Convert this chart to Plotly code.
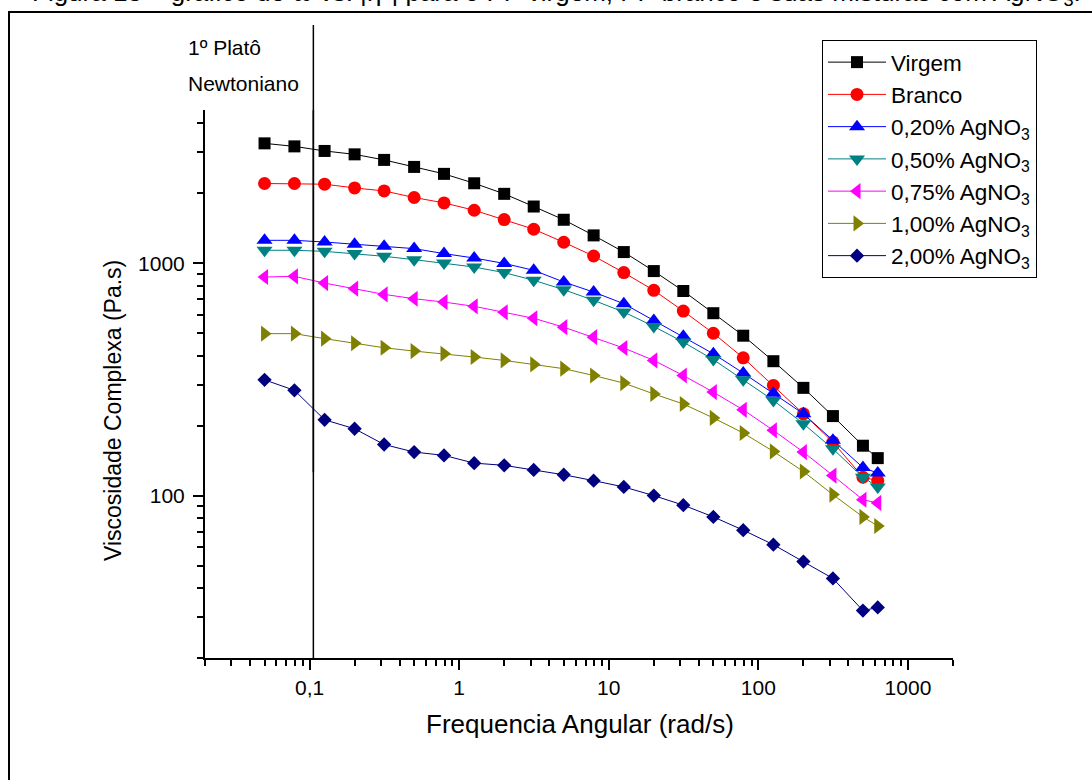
import plotly.graph_objects as go

# ---------------- data ----------------
FREQ = [0.05, 0.0792, 0.126, 0.2, 0.315, 0.5, 0.792, 1.26, 2.0, 3.15, 5.0,
        7.92, 12.6, 20.0, 31.5, 50.0, 79.2, 126, 200, 315, 500, 628]

VIRGEM = [3284, 3187, 3046, 2945, 2787, 2600, 2427, 2211, 1991, 1756, 1540,
          1319, 1118, 926, 760, 610, 488, 379, 291, 220, 164, 145]
BRANCO = [2206, 2206, 2191, 2111, 2049, 1920, 1820, 1692, 1543, 1402, 1232,
          1075, 912, 765, 623, 500, 392, 298, 225, 170, 120, 116]
AG_020 = [1256, 1256, 1235, 1207, 1184, 1157, 1101, 1054, 999, 933, 831,
          752, 670, 568, 485, 408, 337, 276, 225, 173, 132, 125]
AG_050 = [1138, 1138, 1126, 1101, 1072, 1037, 1003, 964, 912, 845, 770,
          693, 617, 535, 458, 385, 315, 257, 204, 159, 120, 109]
AG_075 = [873, 879, 822, 778, 735, 704, 681, 653, 615, 580, 531,
          481, 432, 382, 329, 279, 234, 191, 154, 122, 96, 93]
AG_100 = [498, 498, 474, 453, 433, 419, 408, 395, 382, 367, 352,
          329, 305, 274, 248, 216, 186, 155, 127, 101, 81, 74]
AG_200 = [315, 284, 212, 194, 166, 154, 149, 138, 135, 129, 123,
          116, 109, 100, 91, 81, 71, 61.5, 52, 44, 32, 33]

SERIES_NAMES = ["Virgem", "Branco", "0,20% AgNO<sub>3</sub>", "0,50% AgNO<sub>3</sub>",
                "0,75% AgNO<sub>3</sub>", "1,00% AgNO<sub>3</sub>", "2,00% AgNO<sub>3</sub>"]
SERIES_VALUES = [VIRGEM, BRANCO, AG_020, AG_050, AG_075, AG_100, AG_200]

X_TICKS = [0.1, 1, 10, 100, 1000]
X_TICK_TEXT = ["0,1", "1", "10", "100", "1000"]
Y_TICKS = [100, 1000]
Y_TICK_TEXT = ["100", "1000"]

PLATEAU_LIMIT = 0.106      # rad/s, vertical marker line
PLATEAU_LINE_BOTTOM = 126  # Pa.s

TITLE = "Figura 13 – gráfico de ω vs. |η*| para o PP virgem, PP branco e suas misturas com AgNO<sub>3</sub>."
X_TITLE = "Frequencia Angular (rad/s)"
Y_TITLE = "Viscosidade Complexa (Pa.s)"

# ---------------- styles ----------------
COLORS = ["#000000", "#FF0000", "#0000FF", "#008080", "#FF00FF", "#808000", "#000080"]
SYMBOLS = ["square", "circle", "triangle-up", "triangle-down", "triangle-left",
           "triangle-right", "diamond"]
SIZES = [12, 13, 14, 14, 14, 14, 11]
FONT = "Arial, 'Liberation Sans', sans-serif"

fig = go.Figure()
for name, vals, col, sym, sz in zip(SERIES_NAMES, SERIES_VALUES, COLORS, SYMBOLS, SIZES):
    fig.add_trace(go.Scatter(
        x=FREQ, y=vals, name=name, mode="lines+markers",
        line=dict(color=col, width=1),
        marker=dict(symbol=sym, size=sz, color=col, line=dict(width=0)),
    ))

axis_common = dict(
    type="log", showgrid=False, zeroline=False, showline=True,
    linecolor="black", linewidth=2, ticks="outside", ticklen=10, tickwidth=2,
    tickcolor="black", tickfont=dict(family=FONT, size=21, color="black"),
    minor=dict(ticks="outside", ticklen=6, tickwidth=2, tickcolor="black", dtick="D1"),
    mirror=False,
)

fig.update_xaxes(**axis_common, range=[-1.699, 3.301], tickmode="array",
                 tickvals=X_TICKS, ticktext=X_TICK_TEXT)
fig.update_yaxes(**axis_common, range=[1.301, 3.66], tickmode="array",
                 tickvals=Y_TICKS, ticktext=Y_TICK_TEXT, ticklabelstandoff=4)

L, R, T, B = 205, 139, 110, 122
W, H = 1092, 780
PW, PH = W - L - R, H - T - B


def px_x(px):
    return (px - L) / PW


def px_y(py):
    return (H - B - py) / PH


# outer frame
fig.add_shape(type="rect", xref="paper", yref="paper",
              x0=px_x(9), x1=px_x(1110), y0=px_y(800), y1=px_y(12),
              line=dict(color="black", width=2), fillcolor="rgba(0,0,0,0)", layer="below")
# plateau marker line
fig.add_shape(type="line", xref="x", yref="paper",
              x0=PLATEAU_LIMIT, x1=PLATEAU_LIMIT, y0=0, y1=px_y(25),
              line=dict(color="black", width=1.5))
fig.add_shape(type="line", xref="x", yref="y",
              x0=PLATEAU_LIMIT, x1=PLATEAU_LIMIT, y0=PLATEAU_LINE_BOTTOM, y1=4560,
              line=dict(color="black", width=1.5))

fig.add_annotation(text="1º Platô", xref="paper", yref="paper", x=px_x(186), y=px_y(47),
                   xanchor="left", yanchor="middle", showarrow=False,
                   font=dict(family=FONT, size=21, color="black"))
fig.add_annotation(text="Newtoniano", xref="paper", yref="paper", x=px_x(186), y=px_y(83),
                   xanchor="left", yanchor="middle", showarrow=False,
                   font=dict(family=FONT, size=21, color="black"))
fig.add_annotation(text=TITLE, xref="paper", yref="paper", x=px_x(30), y=px_y(-7),
                   xanchor="left", yanchor="middle", showarrow=False,
                   font=dict(family=FONT, size=26, color="black"))
# axis titles
fig.add_annotation(text=X_TITLE, xref="paper", yref="paper", x=px_x(580), y=px_y(724),
                   xanchor="center", yanchor="middle", showarrow=False,
                   font=dict(family=FONT, size=26, color="black"))
fig.add_annotation(text=Y_TITLE, xref="paper", yref="paper", x=px_x(113), y=px_y(411),
                   xanchor="center", yanchor="middle", showarrow=False, textangle=-90,
                   font=dict(family=FONT, size=23, color="black"))

fig.update_layout(
    width=W, height=H, margin=dict(l=L, r=R, t=T, b=B),
    paper_bgcolor="white", plot_bgcolor="white",
    font=dict(family=FONT, color="black"),
    legend=dict(x=px_x(822), y=px_y(40), xanchor="left", yanchor="top",
                bordercolor="black", borderwidth=1, bgcolor="white",
                font=dict(family=FONT, size=22.5, color="black"),
                itemwidth=58, tracegroupgap=0),
    showlegend=True,
)

fig.write_html("out.html")
